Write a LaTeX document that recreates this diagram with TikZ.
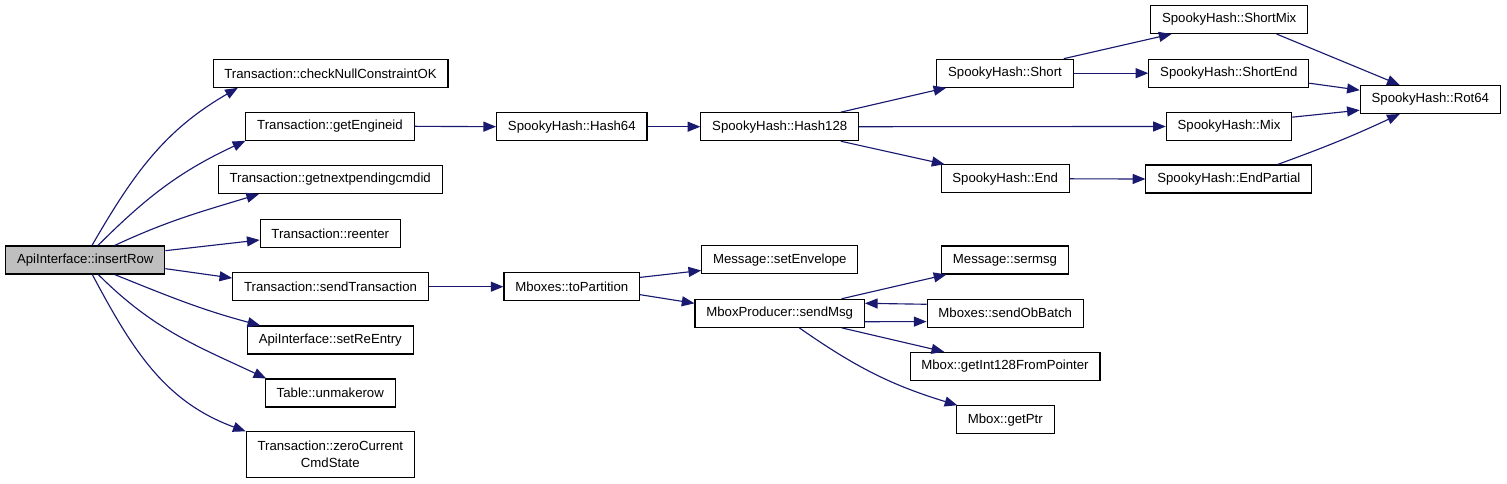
\documentclass[tikz,border=0pt]{standalone}
\usepackage{fontspec}
\setmainfont{Liberation Sans}
\usepackage{tikz}
\usetikzlibrary{arrows.meta}
\definecolor{cgedge}{RGB}{25,25,112}
\definecolor{cgfocus}{RGB}{191,191,191}

\begin{document}
\begin{tikzpicture}[x=0.75pt,y=-0.75pt,font=\fontsize{9.9}{12.5}\selectfont,
    fnbox/.style={draw=black,line width=0.8pt,fill=white,inner xsep=8.5pt,inner ysep=2pt,minimum height=21pt,align=center},
    callarr/.style={cgedge,line width=0.85pt,-{Triangle[length=9.5pt,width=7.5pt]}}]
    \useasboundingbox (0,0) rectangle (1507,483);
    \node[fnbox,fill=cgfocus] (ir) at (85.3,260) {ApiInterface::insertRow};
    \node[fnbox] (cn) at (330.5,73.3) {Transaction::checkNullConstraintOK};
    \node[fnbox] (ge) at (330,126.3) {Transaction::getEngineid};
    \node[fnbox] (gn) at (330.2,179.5) {Transaction::getnextpendingcmdid};
    \node[fnbox] (re) at (330.3,233.3) {Transaction::reenter};
    \node[fnbox] (st) at (330.5,286.7) {Transaction::sendTransaction};
    \node[fnbox] (sr) at (330.3,340) {ApiInterface::setReEntry};
    \node[fnbox] (um) at (330.3,393) {Table::unmakerow};
    \node[fnbox,minimum height=34pt] (zc) at (330.3,454.5) {Transaction::zeroCurrent\\CmdState};
    \node[fnbox] (h64) at (571.8,126.7) {SpookyHash::Hash64};
    \node[fnbox] (h128) at (779.7,126.7) {SpookyHash::Hash128};
    \node[fnbox] (tp) at (571.8,286.7) {Mboxes::toPartition};
    \node[fnbox] (sev) at (779.8,259.8) {Message::setEnvelope};
    \node[fnbox] (sm) at (779.7,313.3) {MboxProducer::sendMsg};
    \node[fnbox] (smsg) at (1005,260) {Message::sermsg};
    \node[fnbox] (sob) at (1005.2,313.2) {Mboxes::sendObBatch};
    \node[fnbox] (gi) at (1005,366.3) {Mbox::getInt128FromPointer};
    \node[fnbox] (gp) at (1005.3,419.8) {Mbox::getPtr};
    \node[fnbox] (sh) at (1005,73.2) {SpookyHash::Short};
    \node[fnbox] (shend) at (1228.8,73.2) {SpookyHash::ShortEnd};
    \node[fnbox] (mix) at (1229,126.5) {SpookyHash::Mix};
    \node[fnbox] (en) at (1005.2,178.8) {SpookyHash::End};
    \node[fnbox] (ep) at (1228.8,179) {SpookyHash::EndPartial};
    \node[fnbox] (smx) at (1229.2,19.5) {SpookyHash::ShortMix};
    \node[fnbox] (r64) at (1430.3,99.5) {SpookyHash::Rot64};
    \draw[callarr] ([xshift=5pt]ir.north) to[out=60,in=210] ([xshift=19pt]cn.south west);
    \draw[callarr] ([xshift=9.5pt]ir.north) to[out=45,in=205] (ge.south west);
    \draw[callarr] ([xshift=22pt]ir.north) to[out=25,in=197] ([xshift=31pt]gn.south west);
    \draw[callarr] ([yshift=7pt]ir.east) -- ([yshift=-5pt]re.west);
    \draw[callarr] ([yshift=-6.5pt]ir.east) -- ([yshift=6.5pt]st.west);
    \draw[callarr] ([xshift=22pt]ir.south) to[out=-22,in=165] ([xshift=10pt]sr.north west);
    \draw[callarr] ([xshift=9.75pt]ir.south) to[out=-45,in=155] ([xshift=1pt]um.north west);
    \draw[callarr] ([xshift=5.25pt]ir.south) to[out=-62,in=160] (zc.north west);
    \draw[callarr] (ge.east) -- (h64.west);
    \draw[callarr] (h64.east) -- (h128.west);
    \draw[callarr] ([xshift=-13.7pt]h128.north east) -- ([xshift=7.5pt]sh.south west);
    \draw[callarr] (h128.east) -- (mix.west);
    \draw[callarr] ([xshift=-13.7pt]h128.south east) -- ([xshift=3pt]en.north west);
    \draw[callarr] ([xshift=-7.5pt]sh.north east) -- ([xshift=16pt]smx.south west);
    \draw[callarr] (sh.east) -- (shend.west);
    \draw[callarr] (en.east) -- (ep.west);
    \draw[callarr] ([xshift=-23.7pt]smx.south east) -- ([xshift=30pt]r64.north west);
    \draw[callarr] ([yshift=-7.5pt]shend.east) -- ([yshift=7pt]r64.west);
    \draw[callarr] ([yshift=7pt]mix.east) -- ([yshift=-8pt]r64.west);
    \draw[callarr] ([xshift=-26pt]ep.north east) to[out=20,in=205] ([xshift=30pt]r64.south west);
    \draw[callarr] (st.east) -- (tp.west);
    \draw[callarr] ([yshift=7pt]tp.east) -- ([yshift=-8pt]sev.west);
    \draw[callarr] ([yshift=-6pt]tp.east) -- ([yshift=7.5pt]sm.west);
    \draw[callarr] ([xshift=-17.5pt]sm.north east) -- ([xshift=4pt]smsg.south west);
    \draw[callarr] ([yshift=-6.3pt]sm.east) -- ([yshift=-6.3pt]sob.west);
    \draw[callarr] ([yshift=6.7pt]sob.west) -- ([yshift=7.5pt]sm.east);
    \draw[callarr] ([xshift=-17.5pt]sm.south east) -- ([xshift=26pt]gi.north west);
    \draw[callarr] ([xshift=14.7pt]sm.south) to[out=-35,in=163] ([xshift=1pt]gp.north west);
\end{tikzpicture}
\end{document}
